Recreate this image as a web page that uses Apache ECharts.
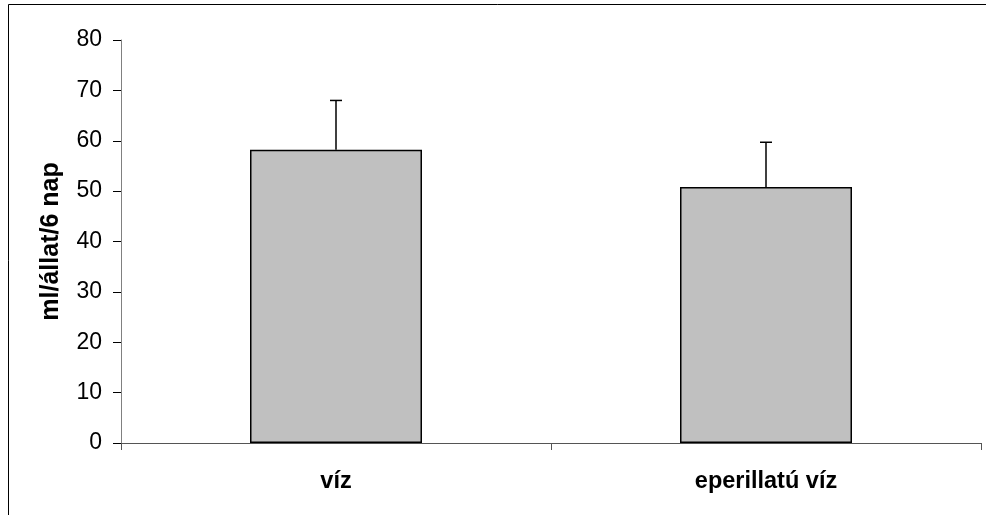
<!DOCTYPE html>
<html><head><meta charset="utf-8">
<script src="https://cdn.jsdelivr.net/npm/echarts@6/dist/echarts.min.js"></script>
<style>html,body{margin:0;padding:0;background:#fff}#c{width:986px;height:515px}</style>
</head><body><div id="c"></div>
<script>
var categories = ['víz', 'eperillatú víz'];
var means = [58.2, 50.8];
var errors = [9.8, 8.9];
var yTicks = { min: 0, max: 80, interval: 10 };

var chart = echarts.init(document.getElementById('c'), null, { renderer: 'canvas' });
var errData = categories.map(function (c, i) { return [i, means[i], means[i] + errors[i]]; });
chart.setOption({
  animation: false,
  backgroundColor: '#fff',
  grid: { left: 121, right: 5, top: 40, bottom: 72, containLabel: false },
  graphic: [{
    type: 'rect', silent: true, z: -1,
    shape: { x: 8.5, y: 4.5, width: 990, height: 520 },
    style: { fill: 'none', stroke: '#000', lineWidth: 1 }
  }],
  xAxis: {
    type: 'category', data: categories, boundaryGap: true,
    axisLine: { lineStyle: { color: '#555', width: 1 } },
    axisTick: { show: true, length: 7, inside: false, lineStyle: { color: '#555' } },
    axisLabel: { margin: 27, fontFamily: 'Liberation Sans, Arial', fontSize: 23.5, fontWeight: 'bold', color: '#000' }
  },
  yAxis: {
    type: 'value', min: yTicks.min, max: yTicks.max, interval: yTicks.interval,
    name: 'ml/állat/6 nap', nameLocation: 'middle', nameGap: 57, nameRotate: 90,
    nameTextStyle: { fontFamily: 'Liberation Sans, Arial', fontSize: 25, fontWeight: 'bold', color: '#000' },
    axisLine: { show: true, lineStyle: { color: '#808080', width: 1 } },
    axisTick: { show: true, length: 8, lineStyle: { color: '#000' } },
    splitLine: { show: false },
    axisLabel: { margin: 19, fontFamily: 'Liberation Sans, Arial', fontSize: 23, color: '#000' }
  },
  series: [{
    type: 'bar', data: means, barWidth: '40%',
    itemStyle: { color: '#C0C0C0', borderColor: '#000', borderWidth: 1.5 }
  }, {
    type: 'custom', data: errData, z: 1,
    renderItem: function (params, api) {
      var x = api.value(0);
      var lo = api.coord([x, api.value(1)]);
      var hi = api.coord([x, api.value(2)]);
      var w = 6;
      return {
        type: 'group',
        children: [
          { type: 'line', shape: { x1: lo[0], y1: lo[1], x2: hi[0], y2: hi[1] }, style: { stroke: '#000', lineWidth: 1.5 } },
          { type: 'line', shape: { x1: hi[0] - w, y1: hi[1], x2: hi[0] + w, y2: hi[1] }, style: { stroke: '#000', lineWidth: 1.5 } }
        ]
      };
    }
  }]
});
</script></body></html>
